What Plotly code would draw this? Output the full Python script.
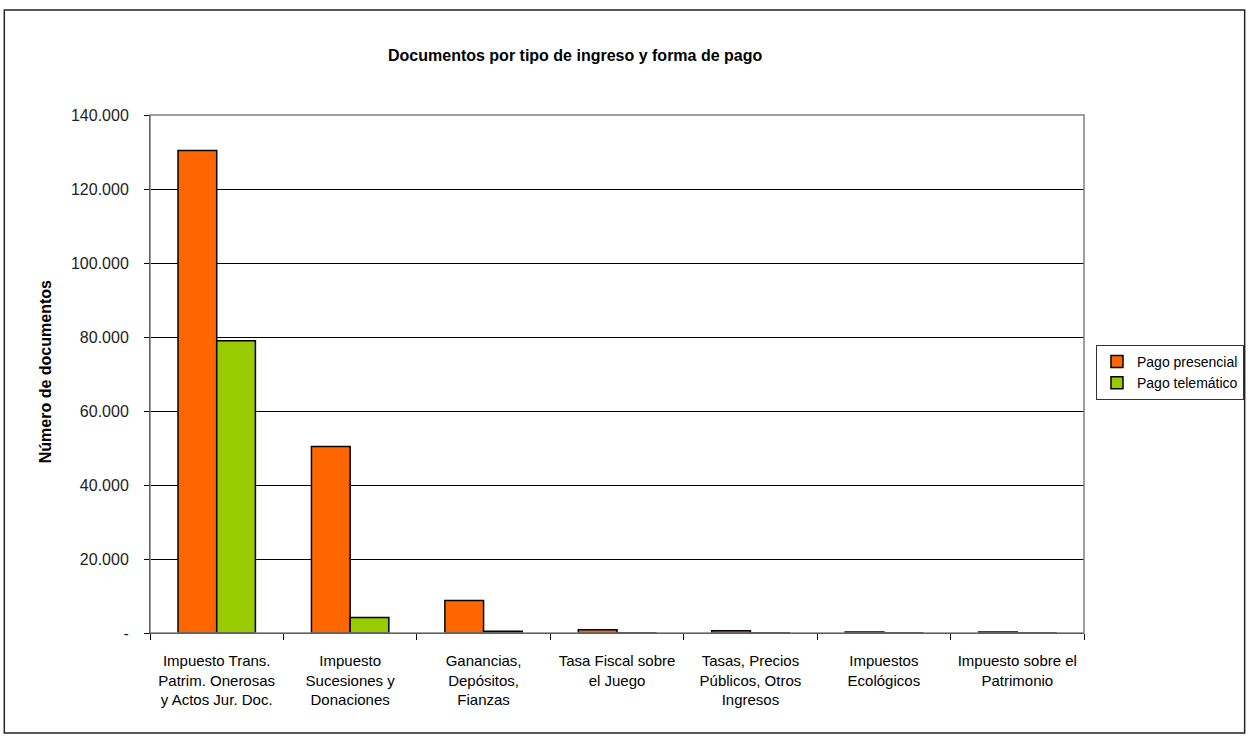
import plotly.graph_objects as go

categories = [
    "Impuesto Trans.<br>Patrim. Onerosas<br>y Actos Jur. Doc.",
    "Impuesto<br>Sucesiones y<br>Donaciones",
    "Ganancias,<br>Depósitos,<br>Fianzas",
    "Tasa Fiscal sobre<br>el Juego",
    "Tasas, Precios<br>Públicos, Otros<br>Ingresos",
    "Impuestos<br>Ecológicos",
    "Impuesto sobre el<br>Patrimonio",
]
pago_presencial = [130400, 50400, 8800, 900, 600, 300, 300]
pago_telematico = [79000, 4200, 450, 80, 60, 40, 50]
ytick_vals = [0, 20000, 40000, 60000, 80000, 100000, 120000, 140000]
ytick_text = ["-", "20.000", "40.000", "60.000", "80.000", "100.000", "120.000", "140.000"]

sans = "Liberation Sans, Arial, sans-serif"

# plot area in pixels
L, R, T, B = 150, 1086, 115, 633
PW, PH = R - L, B - T


def px(x):
    return (x - L) / PW


def py(y):
    return (B - y) / PH


fig = go.Figure()
fig.add_trace(go.Bar(name="Pago presencial", x=categories, y=pago_presencial,
                     marker=dict(color="#FF6600", line=dict(color="black", width=1.5))))
fig.add_trace(go.Bar(name="Pago telemático", x=categories, y=pago_telematico,
                     marker=dict(color="#99CC00", line=dict(color="black", width=1.5))))

fig.update_layout(
    width=1256, height=743,
    margin=dict(l=L, r=1256 - R, t=T, b=743 - B),
    paper_bgcolor="white", plot_bgcolor="white",
    barmode="group", bargap=0.42, bargroupgap=0,
    showlegend=True,
    legend=dict(x=px(1098), y=py(345), xanchor="left", yanchor="top",
                bordercolor="#333333", borderwidth=1,
                font=dict(family=sans, size=14, color="black"),
                itemwidth=30, tracegroupgap=0),
    annotations=[
        dict(text="<b>Documentos por tipo de ingreso y forma de pago</b>",
             x=px(576), y=py(55), xref="paper", yref="paper",
             xanchor="center", yanchor="middle", showarrow=False,
             font=dict(family=sans, size=16, color="black")),
        dict(text="<b>Número de documentos</b>",
             x=px(45), y=py(372), xref="paper", yref="paper",
             xanchor="center", yanchor="middle", showarrow=False, textangle=-90,
             font=dict(family=sans, size=16, color="black")),
    ],
    shapes=[
        dict(type="rect", xref="paper", yref="paper", x0=0, x1=1, y0=0, y1=1,
             line=dict(color="#808080", width=1.5)),
        dict(type="rect", xref="paper", yref="paper",
             x0=px(4), x1=px(1247), y0=py(733), y1=py(10),
             line=dict(color="#222222", width=1.5)),
    ],
)

fig.update_xaxes(
    type="category", tickson="boundaries", ticks="outside", ticklen=6,
    tickcolor="black", showline=True, linecolor="black", linewidth=1,
    showgrid=False, tickangle=0, ticklabelstandoff=14,
    tickfont=dict(family=sans, size=15, color="black"),
)
fig.update_yaxes(
    range=[0, 140000], tickvals=ytick_vals, ticktext=ytick_text,
    ticks="outside", ticklen=5, tickcolor="black",
    showline=True, linecolor="black", linewidth=1,
    showgrid=True, gridcolor="black", gridwidth=1,
    zeroline=False, ticklabelstandoff=12,
    tickfont=dict(family=sans, size=16, color="#222222"),
)

fig.write_html("out.html", config={"displayModeBar": False},
               post_script="document.body.style.margin='0';")
